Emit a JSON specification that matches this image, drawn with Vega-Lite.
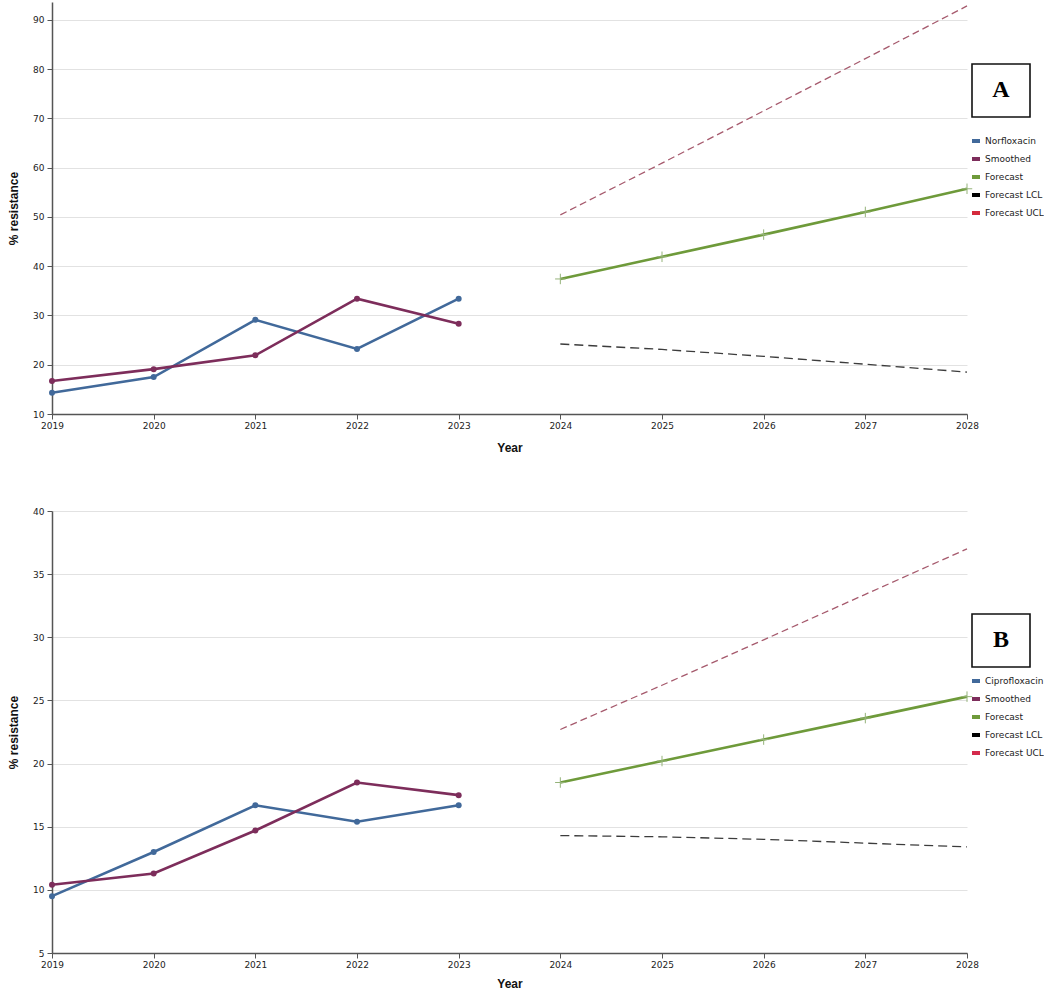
{
  "$schema": "https://vega.github.io/schema/vega-lite/v6.json",
  "padding": {"left": 7, "top": 2, "right": 0, "bottom": 0},
  "background": "white",
  "spacing": 54,
  "datasets": {
    "a": [
      {"year": 2019, "value": 14.3, "series": "Norfloxacin"},
      {"year": 2020, "value": 17.5, "series": "Norfloxacin"},
      {"year": 2021, "value": 29.1, "series": "Norfloxacin"},
      {"year": 2022, "value": 23.2, "series": "Norfloxacin"},
      {"year": 2023, "value": 33.4, "series": "Norfloxacin"},
      {"year": 2019, "value": 16.7, "series": "Smoothed"},
      {"year": 2020, "value": 19.1, "series": "Smoothed"},
      {"year": 2021, "value": 21.9, "series": "Smoothed"},
      {"year": 2022, "value": 33.4, "series": "Smoothed"},
      {"year": 2023, "value": 28.3, "series": "Smoothed"},
      {"year": 2024, "value": 37.4, "series": "Forecast"},
      {"year": 2025, "value": 41.9, "series": "Forecast"},
      {"year": 2026, "value": 46.4, "series": "Forecast"},
      {"year": 2027, "value": 51.0, "series": "Forecast"},
      {"year": 2028, "value": 55.7, "series": "Forecast"},
      {"year": 2024, "value": 24.2, "series": "Forecast LCL"},
      {"year": 2025, "value": 23.1, "series": "Forecast LCL"},
      {"year": 2026, "value": 21.7, "series": "Forecast LCL"},
      {"year": 2027, "value": 20.1, "series": "Forecast LCL"},
      {"year": 2028, "value": 18.5, "series": "Forecast LCL"},
      {"year": 2024, "value": 50.4, "series": "Forecast UCL"},
      {"year": 2025, "value": 60.9, "series": "Forecast UCL"},
      {"year": 2026, "value": 71.5, "series": "Forecast UCL"},
      {"year": 2027, "value": 82.1, "series": "Forecast UCL"},
      {"year": 2028, "value": 92.8, "series": "Forecast UCL"}
    ],
    "b": [
      {"year": 2019, "value": 9.5, "series": "Ciprofloxacin"},
      {"year": 2020, "value": 13.0, "series": "Ciprofloxacin"},
      {"year": 2021, "value": 16.7, "series": "Ciprofloxacin"},
      {"year": 2022, "value": 15.4, "series": "Ciprofloxacin"},
      {"year": 2023, "value": 16.7, "series": "Ciprofloxacin"},
      {"year": 2019, "value": 10.4, "series": "Smoothed"},
      {"year": 2020, "value": 11.3, "series": "Smoothed"},
      {"year": 2021, "value": 14.7, "series": "Smoothed"},
      {"year": 2022, "value": 18.5, "series": "Smoothed"},
      {"year": 2023, "value": 17.5, "series": "Smoothed"},
      {"year": 2024, "value": 18.5, "series": "Forecast"},
      {"year": 2025, "value": 20.2, "series": "Forecast"},
      {"year": 2026, "value": 21.9, "series": "Forecast"},
      {"year": 2027, "value": 23.6, "series": "Forecast"},
      {"year": 2028, "value": 25.3, "series": "Forecast"},
      {"year": 2024, "value": 14.3, "series": "Forecast LCL"},
      {"year": 2025, "value": 14.2, "series": "Forecast LCL"},
      {"year": 2026, "value": 14.0, "series": "Forecast LCL"},
      {"year": 2027, "value": 13.7, "series": "Forecast LCL"},
      {"year": 2028, "value": 13.4, "series": "Forecast LCL"},
      {"year": 2024, "value": 22.7, "series": "Forecast UCL"},
      {"year": 2025, "value": 26.2, "series": "Forecast UCL"},
      {"year": 2026, "value": 29.8, "series": "Forecast UCL"},
      {"year": 2027, "value": 33.4, "series": "Forecast UCL"},
      {"year": 2028, "value": 37.0, "series": "Forecast UCL"}
    ]
  },
  "config": {
    "view": {"stroke": null},
    "axis": {
      "labelFont": "DejaVu Sans",
      "labelFontSize": 9,
      "labelColor": "#222",
      "labelFlush": false,
      "titleFont": "Liberation Sans",
      "titleFontSize": 12,
      "titleFontWeight": "bold",
      "titleColor": "#111",
      "domainColor": "#555",
      "domainWidth": 1.5,
      "tickColor": "#555",
      "tickSize": 5,
      "gridColor": "#e2e2e2",
      "gridWidth": 1
    },
    "legend": {
      "labelFont": "DejaVu Sans",
      "labelFontSize": 9,
      "labelColor": "#222",
      "symbolType": "M-1,0H1",
      "symbolSize": 64,
      "symbolStrokeWidth": 4,
      "rowPadding": 2,
      "labelOffset": 3,
      "padding": 0,
      "strokeWidth": 1.6
    }
  },
  "resolve": {"scale": {"color": "independent", "shape": "independent", "x": "independent", "y": "independent"}, "legend": {"color": "independent", "shape": "independent"}},
  "vconcat": [
    {
      "width": 915,
      "height": 412,
      "data": {"name": "a"},
      "encoding": {
        "x": {"field": "year", "type": "quantitative",
              "scale": {"domain": [2019, 2028], "nice": false, "zero": false},
              "axis": {"values": [2019, 2020, 2021, 2022, 2023, 2024, 2025, 2026, 2027, 2028], "format": "d", "grid": false, "title": "Year", "titlePadding": 12, "labelPadding": 2}},
        "y": {"field": "value", "type": "quantitative",
              "scale": {"domain": [10, 93.6], "nice": false, "zero": false},
              "axis": {"values": [10, 20, 30, 40, 50, 60, 70, 80, 90], "title": "% resistance", "titlePadding": 12, "labelPadding": 3}}
      },
      "layer": [
        {
          "transform": [{"filter": "datum.series === 'Norfloxacin' || datum.series === 'Smoothed' || datum.series === 'Forecast'"}],
          "mark": {"type": "line", "strokeWidth": 2.6},
          "encoding": {
            "color": {"field": "series", "type": "nominal",
              "scale": {"domain": ["Norfloxacin", "Smoothed", "Forecast", "Forecast LCL", "Forecast UCL"],
                        "range": ["#41699a", "#7d2d5b", "#6e9a3a", "#000000", "#d42a3c"]},
              "legend": {"title": null, "orient": "none", "legendX": 918, "legendY": 133}}
          }
        },
        {
          "transform": [{"filter": "datum.series === 'Norfloxacin' || datum.series === 'Smoothed'"}],
          "mark": {"type": "point", "filled": true, "size": 36, "opacity": 1},
          "encoding": {
            "color": {"field": "series", "type": "nominal", "legend": null}
          }
        },
        {
          "transform": [{"filter": "datum.series === 'Forecast'"}],
          "mark": {"type": "point", "filled": false, "size": 110, "stroke": "#95b37a", "strokeWidth": 1, "opacity": 1},
          "encoding": {
            "shape": {"field": "series", "type": "nominal",
              "scale": {"range": ["M-1,0H1M0,-1V1"]},
              "legend": {"title": "A", "orient": "none", "legendX": 920, "legendY": 62,
                "titleFont": "Liberation Serif", "titleFontSize": 24, "titleFontWeight": "bold", "titleColor": "#000",
                "titleAnchor": "middle", "titlePadding": 0, "strokeColor": "#111", "padding": 14,
                "symbolOpacity": 0, "symbolSize": 900, "symbolType": "square", "symbolStrokeWidth": 0,
                "labelExpr": "''", "labelFontSize": 1, "labelOpacity": 0, "labelOffset": 0, "clipHeight": 1}}
          }
        },
        {
          "transform": [{"filter": "datum.series === 'Forecast LCL'"}],
          "mark": {"type": "line", "color": "#3c3c3c", "strokeWidth": 1.3, "strokeDash": [9, 5]}
        },
        {
          "transform": [{"filter": "datum.series === 'Forecast UCL'"}],
          "mark": {"type": "line", "color": "#a65a6d", "strokeWidth": 1.3, "strokeDash": [7, 4]}
        }
      ]
    },
    {
      "width": 915,
      "height": 442,
      "data": {"name": "b"},
      "encoding": {
        "x": {"field": "year", "type": "quantitative",
              "scale": {"domain": [2019, 2028], "nice": false, "zero": false},
              "axis": {"values": [2019, 2020, 2021, 2022, 2023, 2024, 2025, 2026, 2027, 2028], "format": "d", "grid": false, "title": "Year", "titlePadding": 9, "labelPadding": 2}},
        "y": {"field": "value", "type": "quantitative",
              "scale": {"domain": [5, 40], "nice": false, "zero": false},
              "axis": {"values": [5, 10, 15, 20, 25, 30, 35, 40], "title": "% resistance", "titlePadding": 12, "labelPadding": 3}}
      },
      "layer": [
        {
          "transform": [{"filter": "datum.series === 'Ciprofloxacin' || datum.series === 'Smoothed' || datum.series === 'Forecast'"}],
          "mark": {"type": "line", "strokeWidth": 2.6},
          "encoding": {
            "color": {"field": "series", "type": "nominal",
              "scale": {"domain": ["Ciprofloxacin", "Smoothed", "Forecast", "Forecast LCL", "Forecast UCL"],
                        "range": ["#41699a", "#7d2d5b", "#6e9a3a", "#000000", "#d42a4c"]},
              "legend": {"title": null, "orient": "none", "legendX": 918, "legendY": 164}}
          }
        },
        {
          "transform": [{"filter": "datum.series === 'Ciprofloxacin' || datum.series === 'Smoothed'"}],
          "mark": {"type": "point", "filled": true, "size": 36, "opacity": 1},
          "encoding": {
            "color": {"field": "series", "type": "nominal", "legend": null}
          }
        },
        {
          "transform": [{"filter": "datum.series === 'Forecast'"}],
          "mark": {"type": "point", "filled": false, "size": 110, "stroke": "#95b37a", "strokeWidth": 1, "opacity": 1},
          "encoding": {
            "shape": {"field": "series", "type": "nominal",
              "scale": {"range": ["M-1,0H1M0,-1V1"]},
              "legend": {"title": "B", "orient": "none", "legendX": 920, "legendY": 103,
                "titleFont": "Liberation Serif", "titleFontSize": 24, "titleFontWeight": "bold", "titleColor": "#000",
                "titleAnchor": "middle", "titlePadding": 0, "strokeColor": "#111", "padding": 14,
                "symbolOpacity": 0, "symbolSize": 900, "symbolType": "square", "symbolStrokeWidth": 0,
                "labelExpr": "''", "labelFontSize": 1, "labelOpacity": 0, "labelOffset": 0, "clipHeight": 1}}
          }
        },
        {
          "transform": [{"filter": "datum.series === 'Forecast LCL'"}],
          "mark": {"type": "line", "color": "#3c3c3c", "strokeWidth": 1.3, "strokeDash": [9, 5]}
        },
        {
          "transform": [{"filter": "datum.series === 'Forecast UCL'"}],
          "mark": {"type": "line", "color": "#a65a6d", "strokeWidth": 1.3, "strokeDash": [7, 4]}
        }
      ]
    }
  ]
}
